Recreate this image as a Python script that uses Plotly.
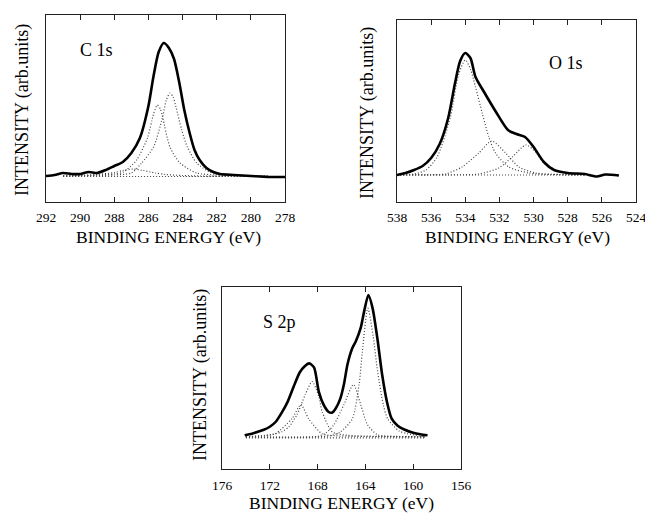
import plotly.graph_objects as go

# ---------------- C 1s ----------------
c1s_energy = [292, 291.5, 291, 290.5, 290, 289.5, 289, 288.5, 288, 287.5, 287, 286.5, 286,
              285.7, 285.4, 285.1, 284.8, 284.5, 284.2, 283.9, 283.6, 283.3, 283, 282.6,
              282.2, 281.8, 281, 280, 279, 278]
c1s_total = [0, 1, 3, 2, 2, 4, 3, 6, 10, 14, 23, 38, 70,
             100, 124, 133, 128, 117, 94, 66, 44, 26, 16, 8,
             4, 2, 1, 0, -1, -1]
c1s_a_energy = [291, 289, 288, 287, 286.4, 285.7, 285.17, 284.95, 284.74, 284.55, 284.4,
                284.05, 283.72, 283.17, 282.4, 281.5, 280, 279]
c1s_a = [0, 0.5, 1, 3, 13, 29, 59, 76, 83, 79, 70, 46, 29, 13, 4, 1.5, 0.5, 0]
c1s_b_energy = [291, 289, 288, 287.47, 286.69, 286.04, 285.7, 285.48, 285.3, 285.17,
                284.74, 284.15, 283.17, 282, 281, 279]
c1s_b = [0, 1, 2, 4, 16, 39, 62, 71, 67, 59, 29, 13, 3, 1, 0.5, 0]
c1s_d_energy = [291, 290, 289, 288, 287.5, 286.9, 286.3, 285.6, 285, 284, 283, 281, 279]
c1s_d = [0, 0.5, 1.5, 3.5, 5.5, 7, 5.5, 3, 1.5, 0.5, 0, 0, 0]
c1s_bg_energy = [291, 279]
c1s_bg = [-0.5, -0.5]
c1s_ticks = [292, 290, 288, 286, 284, 282, 280, 278]

# ---------------- O 1s ----------------
o1s_energy = [538, 537.5, 537, 536.5, 536, 535.5, 535, 534.6, 534.3, 534, 533.7, 533.4,
              532.9, 532.2, 531.5, 531, 530.5, 530, 529.4, 528.8, 528, 527, 526.3, 525.8, 525]
o1s_total = [0, 2, 5, 9, 17, 31, 57, 92, 114, 122, 117, 98,
             83, 63, 45, 41, 38, 28, 13, 5, 2, 1, -1.5, 0.5, -0.5]
o1s_a_energy = [538, 537, 536.3, 535.65, 534.87, 534.4, 534.0, 533.7, 533.4, 533.01,
                532.62, 532.23, 531.45, 530.28, 529, 527]
o1s_a = [0, 1, 5, 18, 58, 100, 115, 106, 88, 62, 38, 22, 8, 2, 0.5, 0]
o1s_b_energy = [538, 536, 535.17, 534.19, 533.21, 532.45, 531.64, 530.86, 529.88, 528.5, 527]
o1s_b = [0, 0.3, 1, 8, 22, 34, 22, 8, 2, 0.5, 0]
o1s_c_energy = [538, 535, 533.21, 532.04, 531.25, 530.45, 529.88, 529.4, 528.4, 527.5, 526.5]
o1s_c = [0, 0.2, 1, 7, 18, 30, 23, 12, 3, 1, 0.3]
o1s_bg_energy = [538, 527]
o1s_bg = [0, 0]
o1s_ticks = [538, 536, 534, 532, 530, 528, 526, 524]

# ---------------- S 2p ----------------
s2p_energy = [174.1, 173.5, 173, 172.5, 172, 171.5, 171, 170.5, 170, 169.5, 169.1, 168.7,
              168.3, 167.9, 167.5, 167.1, 166.8, 166.5, 166.1, 165.8, 165.5, 165.1, 164.8,
              164.4, 164.1, 163.75, 163.4, 163.0, 162.6, 162.2, 161.8, 161.3, 160.7, 160,
              159.4, 158.8]
s2p_total = [1.5, 3, 5, 7, 10, 15, 24, 35, 50, 64, 70, 73,
             69, 45, 32, 25, 24, 28, 38, 52, 72, 88, 95,
             108, 125, 141, 128, 98, 62, 35, 18, 11, 7, 4,
             2.5, 1.5]
s2p_1_energy = [174, 172, 171, 170.4, 169.73, 169.03, 168.45, 167.9, 167.62, 166.78, 165.5, 163, 159]
s2p_1 = [0, 2, 5, 10, 22, 42, 55, 40, 25, 5, 1.5, 0.5, 0]
s2p_2_energy = [174, 172.5, 171.56, 170.15, 169.4, 168.75, 167.62, 166.5, 164, 159]
s2p_2 = [0, 1, 3, 18, 32, 18, 3, 1, 0.3, 0]
s2p_3_energy = [174, 168, 167.3, 166.64, 165.8, 165.0, 164.39, 163.82, 162.98, 161.5, 159]
s2p_3 = [0, 0.5, 4, 12, 32, 52, 32, 12, 2, 0.5, 0]
s2p_4_energy = [174, 167, 166.08, 165.09, 164.53, 164.25, 163.8, 163.35, 162.98, 162.5,
                162.14, 161.2, 160.45, 159]
s2p_4 = [0, 1, 5, 18, 52, 85, 128, 100, 65, 32, 18, 6, 3, 0]
s2p_bg_energy = [174, 159]
s2p_bg = [-1, -1]
s2p_ticks = [176, 172, 168, 164, 160, 156]

W, H = 645, 513
FONT = "Liberation Serif"
DOT = dict(color="#444444", width=1.2, dash="1px,2px")
SOLID = dict(color="black", width=2.6, shape="spline", smoothing=0.7)

fig = go.Figure()


def add_panel(n, total_e, total_i, comps, bg_e, bg_i):
    xa = "x" if n == 1 else f"x{n}"
    ya = "y" if n == 1 else f"y{n}"
    fig.add_trace(go.Scatter(x=bg_e, y=bg_i, mode="lines", line=DOT,
                             xaxis=xa, yaxis=ya, showlegend=False, hoverinfo="skip"))
    for ce, ci in comps:
        fig.add_trace(go.Scatter(x=ce, y=ci, mode="lines",
                                 line=dict(DOT, shape="spline", smoothing=0.7),
                                 xaxis=xa, yaxis=ya, showlegend=False))
    fig.add_trace(go.Scatter(x=total_e, y=total_i, mode="lines", line=SOLID,
                             xaxis=xa, yaxis=ya, showlegend=False))


add_panel(1, c1s_energy, c1s_total,
          [(c1s_a_energy, c1s_a), (c1s_b_energy, c1s_b), (c1s_d_energy, c1s_d)],
          c1s_bg_energy, c1s_bg)
add_panel(2, o1s_energy, o1s_total,
          [(o1s_a_energy, o1s_a), (o1s_b_energy, o1s_b), (o1s_c_energy, o1s_c)],
          o1s_bg_energy, o1s_bg)
add_panel(3, s2p_energy, s2p_total,
          [(s2p_1_energy, s2p_1), (s2p_2_energy, s2p_2),
           (s2p_3_energy, s2p_3), (s2p_4_energy, s2p_4)],
          s2p_bg_energy, s2p_bg)


def px_x(p):
    return p / W


def px_y(p):
    return 1 - p / H


def xaxis_cfg(x0, x1, rng, ticks, anchor, standoff):
    return dict(domain=[px_x(x0), px_x(x1)], range=rng, tickvals=ticks,
                showline=True, mirror="ticks", linecolor="#222", linewidth=1.2,
                ticks="inside", ticklen=5, tickcolor="#222", tickwidth=1.2,
                showgrid=False, zeroline=False, anchor=anchor, automargin=False,
                ticklabelstandoff=standoff, ticklabeloverflow="allow",
                tickfont=dict(family=FONT, size=13.5, color="black"))


def yaxis_cfg(y0, y1, rng, anchor):
    return dict(domain=[px_y(y1), px_y(y0)], range=rng, showline=True, mirror=True,
                linecolor="#222", linewidth=1.2, showticklabels=False, ticks="",
                showgrid=False, zeroline=False, anchor=anchor, automargin=False)


fig.update_layout(
    width=W, height=H, margin=dict(l=0, r=0, t=0, b=0, pad=0), autosize=False,
    paper_bgcolor="white", plot_bgcolor="white",
    font=dict(family=FONT),
    xaxis=xaxis_cfg(46, 285, [292, 278], c1s_ticks, "y", 3),
    yaxis=yaxis_cfg(15, 202, [-26, 161], "x"),
    xaxis2=xaxis_cfg(397, 636, [538, 524], o1s_ticks, "y2", 3),
    yaxis2=yaxis_cfg(20, 202, [-27, 155], "x2"),
    xaxis3=xaxis_cfg(222, 461, [176, 156], s2p_ticks, "y3", 4),
    yaxis3=yaxis_cfg(287, 469, [-32, 149], "x3"),
)

annots = [
    ("C 1s", 96, 50, 18, 0),
    ("O 1s", 566, 63, 18, 0),
    ("S 2p", 279, 322, 18, 0),
    ("BINDING ENERGY (eV)", 168, 237, 17.5, 0),
    ("BINDING ENERGY (eV)", 517, 237, 17.5, 0),
    ("BINDING ENERGY (eV)", 341, 503, 17.5, 0),
    ("INTENSITY (arb.units)", 22, 110, 18, -90),
    ("INTENSITY (arb.units)", 367, 113, 18, -90),
    ("INTENSITY (arb.units)", 200, 375, 18, -90),
]
for text, x, y, size, ang in annots:
    fig.add_annotation(text=text, x=px_x(x), y=px_y(y), xref="paper", yref="paper",
                       showarrow=False, textangle=ang, xanchor="center", yanchor="middle",
                       font=dict(family=FONT, size=size, color="black"))

fig.write_html("out.html", config={"displayModeBar": False},
               post_script="document.body.style.margin='0';document.body.style.overflow='hidden';")
